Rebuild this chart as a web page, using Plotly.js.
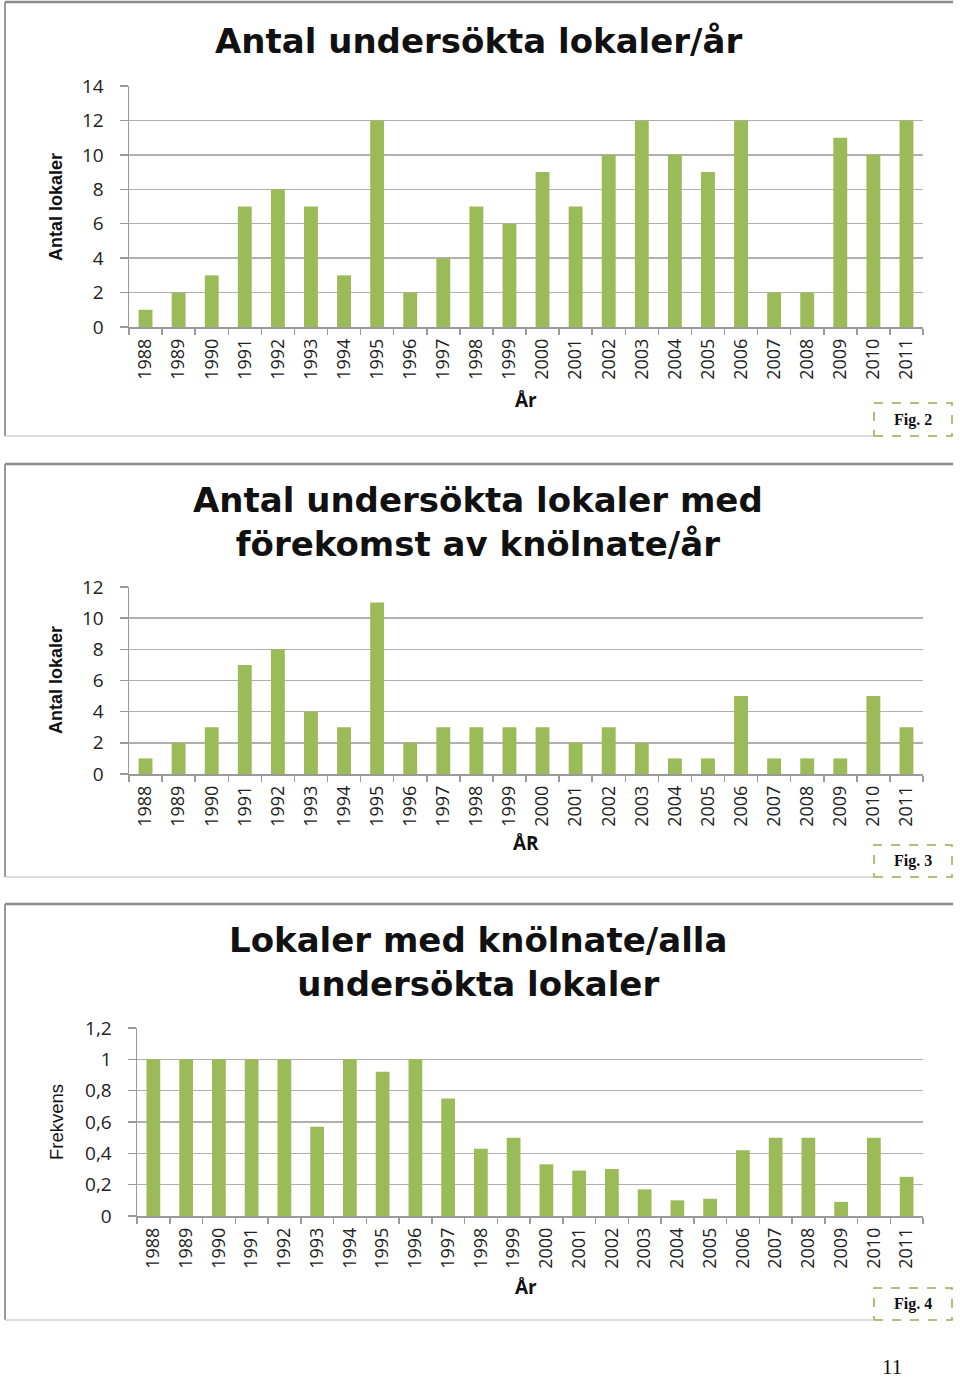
<!DOCTYPE html>
<html>
<head>
<meta charset="utf-8">
<script src="https://cdn.plot.ly/plotly-3.0.1.min.js"></script>
<style>
html,body{margin:0;padding:0;background:#fff;}
#chart{width:960px;height:1381px;}
</style>
</head>
<body>
<div id="chart"></div>
<script>
// ---- data ----
const years = ["1988","1989","1990","1991","1992","1993","1994","1995","1996","1997","1998","1999",
               "2000","2001","2002","2003","2004","2005","2006","2007","2008","2009","2010","2011"];
const undersokta = [1,2,3,7,8,7,3,12,2,4,7,6,9,7,10,12,10,9,12,2,2,11,10,12];
const medKnolnate = [1,2,3,7,8,4,3,11,2,3,3,3,3,2,3,2,1,1,5,1,1,1,5,3];
const frekvens = [1,1,1,1,1,0.57,1,0.92,1,0.75,0.43,0.5,0.33,0.29,0.3,0.17,0.1,0.11,0.42,0.5,0.5,0.09,0.5,0.25];

const titles = ["Antal undersökta lokaler/år",
                "Antal undersökta lokaler med<br>förekomst av knölnate/år",
                "Lokaler med knölnate/alla<br>undersökta lokaler"];
const yTitles = ["Antal lokaler","Antal lokaler","Frekvens"];
const xTitles = ["År","ÅR","År"];
const figLabels = ["Fig. 2","Fig. 3","Fig. 4"];
const pageNumber = "11";

// ---- geometry (pixels) ----
const W = 960, H = 1381;
const px = v => v / W;
const py = v => 1 - v / H;
const BAR = "#9bbb59";
const GRID = "#b0b0b0";

const panels = [
  {left:129, right:923, top:86,  bottom:327, range:[0,14],  dtick:2,   titleY:41,  yTitleY:207, xTitleY:400,
   box:{top:2, bottom:436}, fig:{x0:874,x1:952,y0:403,y1:436}},
  {left:129, right:923, top:587, bottom:774, range:[0,12],  dtick:2,   titleY:522, yTitleY:680, xTitleY:843,
   box:{top:464, bottom:877}, fig:{x0:874,x1:952,y0:845,y1:877}},
  {left:137, right:923, top:1028,bottom:1216,range:[0,1.2], dtick:0.2, titleY:962, yTitleY:1122,xTitleY:1287,
   box:{top:904, bottom:1320}, fig:{x0:874,x1:952,y0:1288,y1:1320}}
];
const series = [undersokta, medKnolnate, frekvens];

const data = [];
const layout = {
  width: W, height: H,
  margin: {l:0, r:0, t:0, b:0},
  paper_bgcolor: "#fff", plot_bgcolor: "#fff",
  showlegend: false,
  bargap: 0.58,
  separators: ", ",
  font: {family: "Open Sans, sans-serif", color: "#222"},
  annotations: [], shapes: []
};

panels.forEach((p, i) => {
  const n = i === 0 ? "" : String(i + 1);
  data.push({
    type: "bar", x: years, y: series[i],
    xaxis: "x" + n, yaxis: "y" + n,
    marker: {color: BAR}, hoverinfo: "x+y"
  });
  layout["xaxis" + n] = {
    domain: [px(p.left), px(p.right)],
    anchor: "y" + n,
    type: "category",
    showline: true, linecolor: "#9a9a9a", linewidth: 1.5,
    ticks: "outside", tickson: "boundaries", ticklen: 6, tickcolor: "#9a9a9a", tickwidth: 1.5,
    tickangle: -90,
    ticklabelstandoff: 3,
    tickfont: {family: "Open Sans, sans-serif", size: 18, color: "#222"},
    showgrid: false, fixedrange: true
  };
  layout["yaxis" + n] = {
    domain: [py(p.bottom), py(p.top)],
    anchor: "x" + n,
    range: p.range, dtick: p.dtick, tick0: 0,
    showline: true, linecolor: "#9a9a9a", linewidth: 1.5,
    ticks: "outside", ticklen: 8, tickcolor: "#9a9a9a", tickwidth: 1.5,
    ticklabelstandoff: 12,
    tickfont: {family: "Open Sans, sans-serif", size: 19, color: "#222"},
    showgrid: true, gridcolor: GRID, gridwidth: 1.5,
    zeroline: false, fixedrange: true
  };

  // chart title
  layout.annotations.push({
    xref: "paper", yref: "paper", x: px(478), y: py(p.titleY),
    xanchor: "center", yanchor: "middle", showarrow: false,
    text: "<b>" + titles[i] + "</b>",
    font: {family: "DejaVu Sans, sans-serif", size: 34, color: "#111"}
  });
  // y axis title
  layout.annotations.push({
    xref: "paper", yref: "paper", x: px(56), y: py(p.yTitleY),
    xanchor: "center", yanchor: "middle", showarrow: false, textangle: -90,
    text: i < 2 ? "<b>" + yTitles[i] + "</b>" : yTitles[i],
    font: {family: "Liberation Sans Narrow, Arial Narrow, sans-serif", size: i < 2 ? 18 : 18.5, color: "#111"}
  });
  // x axis title
  layout.annotations.push({
    xref: "paper", yref: "paper", x: px(526), y: py(p.xTitleY),
    xanchor: "center", yanchor: "middle", showarrow: false,
    text: "<b>" + xTitles[i] + "</b>",
    font: {family: "Open Sans, sans-serif", size: 19, color: "#111"}
  });
  // fig label
  layout.annotations.push({
    xref: "paper", yref: "paper", x: px((p.fig.x0 + p.fig.x1) / 2), y: py((p.fig.y0 + p.fig.y1) / 2),
    xanchor: "center", yanchor: "middle", showarrow: false,
    text: "<b>" + figLabels[i] + "</b>",
    font: {family: "Liberation Serif, Times New Roman, serif", size: 16, color: "#111"}
  });
  layout.shapes.push({
    type: "rect", xref: "paper", yref: "paper",
    x0: px(p.fig.x0), x1: px(p.fig.x1), y0: py(p.fig.y1), y1: py(p.fig.y0),
    line: {color: "#8fb04f", width: 1.5, dash: "dash"}, fillcolor: "rgba(0,0,0,0)"
  });
  // panel border
  layout.shapes.push({
    type: "line", xref: "paper", yref: "paper",
    x0: px(5), x1: px(953), y0: py(p.box.top), y1: py(p.box.top),
    line: {color: "#8a8a8a", width: 2.5}
  });
  layout.shapes.push({
    type: "line", xref: "paper", yref: "paper",
    x0: px(5), x1: px(5), y0: py(p.box.top), y1: py(p.box.bottom),
    line: {color: "#9a9a9a", width: 2}
  });
  layout.shapes.push({
    type: "line", xref: "paper", yref: "paper",
    x0: px(5), x1: px(874), y0: py(p.box.bottom), y1: py(p.box.bottom),
    line: {color: "#d0d0d0", width: 1.5}
  });
});

layout.annotations.push({
  xref: "paper", yref: "paper", x: px(892), y: py(1367),
  xanchor: "center", yanchor: "middle", showarrow: false,
  text: pageNumber,
  font: {family: "Liberation Serif, Times New Roman, serif", size: 21, color: "#111"}
});

Plotly.newPlot("chart", data, layout, {displayModeBar: false, staticPlot: true});
</script>
</body>
</html>
